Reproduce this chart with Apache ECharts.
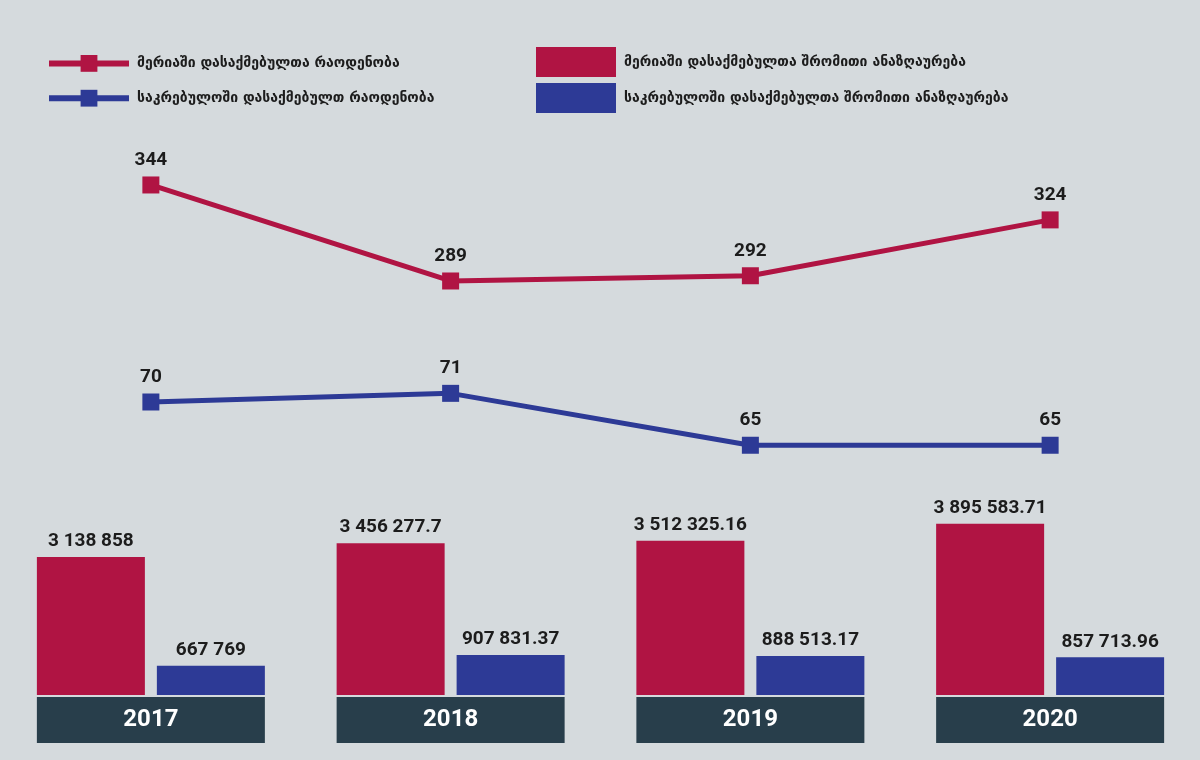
<!DOCTYPE html>
<html>
<head>
<meta charset="utf-8">
<style>
  html, body { margin: 0; padding: 0; background: #d5dadd; }
  #chart { width: 1200px; height: 760px; }
</style>
<script src="https://cdn.jsdelivr.net/npm/echarts@6/dist/echarts.min.js"></script>
</head>
<body>
<div id="chart"></div>
<script>
var years = ['2017', '2018', '2019', '2020'];
var meriaCount = [344, 289, 292, 324];
var sakrebuloCount = [70, 71, 65, 65];
var meriaPay = [3138858, 3456277.7, 3512325.16, 3895583.71];
var sakrebuloPay = [667769, 907831.37, 888513.17, 857713.96];

var names = {
  meriaCount: 'მერიაში დასაქმებულთა რაოდენობა',
  sakrebuloCount: 'საკრებულოში დასაქმებულთ რაოდენობა',
  meriaPay: 'მერიაში დასაქმებულთა შრომითი ანაზღაურება',
  sakrebuloPay: 'საკრებულოში დასაქმებულთა შრომითი ანაზღაურება'
};

var RED = '#b01443';
var BLUE = '#2d3a96';
var numFont = 'Roboto';
var geoFont = '"DejaVu Sans"';

function spaced(v) {
  var parts = String(v).split('.');
  var s = parts[0].replace(/\B(?=(\d{3})+(?!\d))/g, ' ');
  return parts.length > 1 ? s + '.' + parts[1] : s;
}

var labelStyle = {
  show: true,
  position: 'top',
  color: '#1c1c1c',
  fontFamily: numFont,
  fontWeight: 'bold',
  fontSize: 19
};

var legendText = { fontFamily: geoFont, fontWeight: 'bold', fontSize: 14, color: '#1c1c1c', padding: [0, 0, 0, 3] };

var chart = echarts.init(document.getElementById('chart'));

var option = {
  backgroundColor: '#d5dadd',
  animation: false,
  legend: [{
    orient: 'vertical',
    left: 46,
    top: 55,
    padding: 0,
    itemWidth: 80,
    itemHeight: 21,
    itemGap: 18,
    lineStyle: { width: 6 },
    data: [names.meriaCount, names.sakrebuloCount],
    textStyle: legendText
  }, {
    orient: 'vertical',
    left: 536,
    top: 47,
    padding: 0,
    itemWidth: 80,
    itemHeight: 30,
    itemGap: 6,
    icon: 'rect',
    data: [names.meriaPay, names.sakrebuloPay],
    textStyle: legendText
  }],
  grid: [
    { left: 1, width: 1200, top: 174.5, height: 122.2 },
    { left: 1, width: 1200, top: 358.75, height: 129.75 },
    { left: 1, width: 1200, top: 519.25, height: 175.75 }
  ],
  xAxis: [
    { gridIndex: 0, type: 'category', data: years, show: false },
    { gridIndex: 1, type: 'category', data: years, show: false },
    {
      gridIndex: 2, type: 'category', data: years,
      axisLine: { show: false }, axisTick: { show: false },
      axisLabel: {
        margin: 2,
        color: '#ffffff',
        fontFamily: numFont,
        fontWeight: 'bold',
        fontSize: 24,
        backgroundColor: '#283e4b',
        width: 228,
        height: 46,
        lineHeight: 46,
        align: 'center'
      }
    }
  ],
  yAxis: [
    { gridIndex: 0, type: 'value', min: 280, max: 350, show: false },
    { gridIndex: 1, type: 'value', min: 60, max: 75, show: false },
    { gridIndex: 2, type: 'value', min: 0, max: 4000000, show: false }
  ],
  series: [{
    name: names.meriaCount,
    type: 'line',
    xAxisIndex: 0, yAxisIndex: 0,
    data: meriaCount,
    symbol: 'rect',
    symbolSize: 17,
    color: RED,
    lineStyle: { width: 5, color: RED },
    itemStyle: { color: RED },
    label: Object.assign({}, labelStyle, { distance: 7 })
  }, {
    name: names.sakrebuloCount,
    type: 'line',
    xAxisIndex: 1, yAxisIndex: 1,
    data: sakrebuloCount,
    symbol: 'rect',
    symbolSize: 17,
    color: BLUE,
    lineStyle: { width: 5, color: BLUE },
    itemStyle: { color: BLUE },
    label: Object.assign({}, labelStyle, { distance: 7 })
  }, {
    name: names.meriaPay,
    type: 'bar',
    xAxisIndex: 2, yAxisIndex: 2,
    data: meriaPay,
    barWidth: 108,
    barGap: '11.1%',
    itemStyle: { color: RED },
    label: Object.assign({}, labelStyle, { distance: 6, formatter: function(p) { return spaced(p.value); } })
  }, {
    name: names.sakrebuloPay,
    type: 'bar',
    xAxisIndex: 2, yAxisIndex: 2,
    data: sakrebuloPay,
    barWidth: 108,
    barGap: '11.1%',
    itemStyle: { color: BLUE },
    label: Object.assign({}, labelStyle, { distance: 6, formatter: function(p) { return spaced(p.value); } })
  }]
};

chart.setOption(option);
</script>
</body>
</html>
